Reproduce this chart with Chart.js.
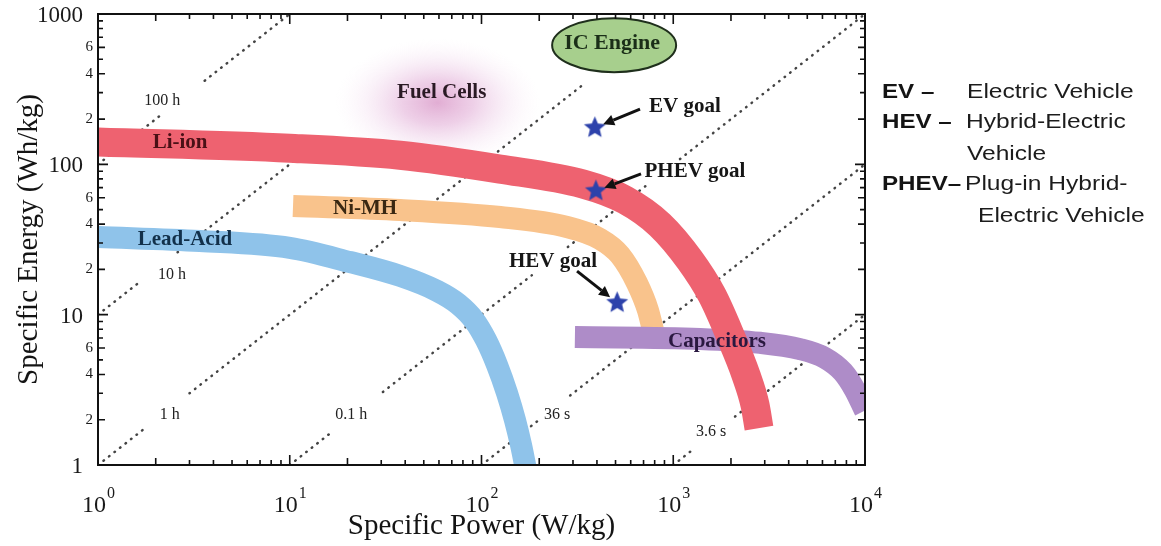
<!DOCTYPE html>
<html>
<head>
<meta charset="utf-8">
<script src="https://cdn.jsdelivr.net/npm/chart.js@4.4.1/dist/chart.umd.min.js"></script>
<style>
  html, body { margin: 0; padding: 0; background: #fff; }
  #wrap { width: 1161px; height: 546px; position: relative; }
</style>
</head>
<body>
<div id="wrap"><canvas id="ragone"></canvas></div>
<script>
// ---- bands: specific power (W/kg) vs specific energy (Wh/kg) ----
const leadAcidPower  = [1, 3.4, 10, 20.6, 37.6, 58.6, 75.4, 91.4, 105.6, 120.5, 135.9, 149.5, 160.7, 170.7];
const leadAcidEnergy = [32.9, 30.9, 27.8, 22.4, 18.1, 14.4, 11.8, 9.21, 6.78, 4.63, 3.01, 1.99, 1.36, 0.93];
const niMhPower      = [10.4, 37.6, 125, 279, 415, 528, 647, 738, 784];
const niMhEnergy     = [52.8, 49.7, 44.6, 38.3, 31.9, 24.9, 16.2, 10.7, 7.9];
const liIonPower     = [1, 10, 37.6, 125, 338, 560, 853, 1222, 1592, 1977, 2394, 2669, 2800];
const liIonEnergy    = [141, 128, 115, 93, 74, 58, 39.5, 23, 13.5, 7.32, 3.97, 2.51, 1.76];
const capPower       = [307, 1379, 2834, 4581, 6186, 7678, 8869, 10000, 11280];
const capEnergy      = [7.1, 6.9, 6.5, 5.9, 5.15, 4.15, 3.15, 2.3, 1.7];

const bandNames  = ['Li-ion', 'Ni-MH', 'Lead-Acid', 'Capacitors'];
const bandLabelP = [2.68, 24.7, 2.84, 1691];
const bandLabelE = [138.7, 50.5, 31.4, 6.58];

// ---- constant discharge-time guide lines (visible segments) ----
const guideNames = ['100 h', '10 h', '1 h', '0.1 h', '36 s', '3.6 s'];
const guideLabelP = [2.16, 2.43, 2.37, 20.9, 248, 1574];
const guideLabelE = [264, 18.4, 2.15, 2.15, 2.15, 1.66];
const guide100h = [[[1, 100], [2.1, 210]], [[3.6, 360], [10, 1000]]];
const guide10h  = [[[1, 10], [1.66, 16.6]], [[2.6, 26], [11, 110]]];
const guide1h   = [[[1, 1], [1.76, 1.76]], [[3, 3], [350, 350]]];
const guide01h  = [[[10, 1], [16.8, 1.68]], [[30.6, 3.06], [183, 18.3]], [[282, 28.2], [757, 75.7]], [[1084, 108.4], [10000, 1000]]];
const guide36s  = [[[100, 1], [195, 1.95]], [[290, 2.9], [10000, 100]]];
const guide3_6s = [[[1000, 1], [1250, 1.25]], [[2100, 2.1], [10000, 10]]];

// ---- vehicle goals ----
const goalNames   = ['EV goal', 'PHEV goal', 'HEV goal'];
const goalPower   = [390, 395, 510];
const goalEnergy  = [175, 66.5, 12];
const goalLabelP  = [1151, 1298, 236];
const goalLabelE  = [241, 88.9, 22.4];
const arrowTailP  = [671, 679, 315];
const arrowTailE  = [233, 86.3, 19.5];

// ---- other regions ----
const regionNames  = ['Fuel Cells', 'IC Engine'];
const regionPower  = [62, 480];
const regionEnergy = [300, 640];

// ---- axes ----
const xMajor = [1, 10, 100, 1000, 10000];
const xExponents = ['0', '1', '2', '3', '4'];
const yMajor = [1, 10, 100, 1000];
const yMajorLabels = ['1', '10', '100', '1000'];
const yMinor = [2, 4, 6, 20, 40, 60, 200, 400, 600];
const yMinorLabels = ['2', '4', '6', '2', '4', '6', '2', '4', '6'];
const minorSteps = [2, 3, 4, 5, 6, 7, 8, 9];

// ---- side legend ----
const acronyms = ['EV \u2013', 'HEV \u2013', '', 'PHEV\u2013', ''];
const meanings = ['Electric Vehicle', 'Hybrid-Electric', 'Vehicle', 'Plug-in Hybrid-', 'Electric Vehicle'];

const SERIF = '"Liberation Serif", "Times New Roman", serif';
const SANS = '"Liberation Sans", Arial, sans-serif';
Chart.defaults.font.family = SERIF;

function starCanvas(r, fill) {
  const c = document.createElement('canvas');
  const s = Math.ceil(r * 2 + 2);
  c.width = s; c.height = s;
  const g = c.getContext('2d');
  g.beginPath();
  for (let i = 0; i < 10; i++) {
    const rad = i % 2 ? r * 0.45 : r;
    const a = -Math.PI / 2 + i * Math.PI / 5;
    g.lineTo(s / 2 + rad * Math.cos(a), s / 2 + rad * Math.sin(a));
  }
  g.closePath();
  g.fillStyle = fill;
  g.fill();
  return c;
}

function band(label, P, E, colour, width, order) {
  return {
    label, order,
    data: P.map((p, i) => ({ x: p, y: E[i] })),
    showLine: true,
    borderColor: colour,
    backgroundColor: colour,
    borderWidth: width,
    borderCapStyle: 'butt',
    borderJoinStyle: 'round',
    cubicInterpolationMode: 'monotone',
    pointRadius: 0,
    clip: 0
  };
}

const datasets = [];
datasets.push({
  label: 'goals', order: 0,
  data: goalPower.map((p, i) => ({ x: p, y: goalEnergy[i] })),
  pointStyle: starCanvas(11.5, '#2d42ab'),
  pointRadius: 11,
  showLine: false
});
datasets.push(band('Li-ion', liIonPower, liIonEnergy, '#ee6270', 29, 1));
datasets.push(band('Capacitors', capPower, capEnergy, '#ae8cc8', 22, 2));
datasets.push(band('Ni-MH', niMhPower, niMhEnergy, '#f9c38c', 22, 3));
datasets.push(band('Lead-Acid', leadAcidPower, leadAcidEnergy, '#8fc3ea', 22, 4));

[guide100h, guide10h, guide1h, guide01h, guide36s, guide3_6s].forEach((segs, gi) => {
  segs.forEach(seg => {
    datasets.push({
      label: guideNames[gi], order: 20,
      data: seg.map(pt => ({ x: pt[0], y: pt[1] })),
      showLine: true,
      borderColor: '#444',
      borderWidth: 2.5,
      borderDash: [0.5, 6.5],
      borderCapStyle: 'round',
      pointRadius: 0,
      clip: 0
    });
  });
});

function toPx(chart, p, e) {
  return [chart.scales.x.getPixelForValue(p), chart.scales.y.getPixelForValue(e)];
}

function text(ctx, str, x, y, font, colour, align, baseline, sx) {
  ctx.save();
  ctx.font = font;
  ctx.fillStyle = colour;
  ctx.textAlign = align || 'center';
  ctx.textBaseline = baseline || 'middle';
  ctx.translate(x, y);
  ctx.scale(sx || 1, 1);
  ctx.fillText(str, 0, 0);
  ctx.restore();
}

function arrow(ctx, x0, y0, x1, y1) {
  const a = Math.atan2(y1 - y0, x1 - x0);
  const head = 11, half = 5.5;
  const bx = x1 - head * Math.cos(a), by = y1 - head * Math.sin(a);
  ctx.save();
  ctx.strokeStyle = '#111';
  ctx.fillStyle = '#111';
  ctx.lineWidth = 3;
  ctx.beginPath();
  ctx.moveTo(x0, y0);
  ctx.lineTo(bx, by);
  ctx.stroke();
  ctx.beginPath();
  ctx.moveTo(x1, y1);
  ctx.lineTo(bx + half * Math.sin(a), by - half * Math.cos(a));
  ctx.lineTo(bx - half * Math.sin(a), by + half * Math.cos(a));
  ctx.closePath();
  ctx.fill();
  ctx.restore();
}

const decor = {
  id: 'ragoneDecor',
  beforeDatasetsDraw(chart) {
    const { ctx, chartArea: ca } = chart;
    const [cx, cy] = toPx(chart, regionPower[0], regionEnergy[0]);
    ctx.save();
    ctx.beginPath();
    ctx.rect(ca.left, ca.top, ca.right - ca.left, ca.bottom - ca.top);
    ctx.clip();
    ctx.translate(cx - 4, cy + 10);
    ctx.scale(1.6, 1);
    const g = ctx.createRadialGradient(0, 0, 0, 0, 0, 64);
    g.addColorStop(0, 'rgba(196,92,168,0.5)');
    g.addColorStop(0.35, 'rgba(208,124,190,0.36)');
    g.addColorStop(0.7, 'rgba(226,176,218,0.16)');
    g.addColorStop(1, 'rgba(245,220,240,0)');
    ctx.fillStyle = g;
    ctx.fillRect(-70, -70, 140, 140);
    ctx.restore();
  },
  afterDatasetsDraw(chart) {
    const { ctx, chartArea: ca } = chart;

    // IC engine ellipse
    const [ex, ey] = toPx(chart, regionPower[1], regionEnergy[1]);
    ctx.save();
    ctx.beginPath();
    ctx.ellipse(ex + 2, ey + 2, 62, 27, 0, 0, Math.PI * 2);
    ctx.fillStyle = '#a7cf8d';
    ctx.fill();
    ctx.lineWidth = 2;
    ctx.strokeStyle = '#1f2f1c';
    ctx.stroke();
    ctx.restore();

    const bold = 'bold 21px ' + SERIF;
    text(ctx, regionNames[0], ...toPx(chart, regionPower[0], regionEnergy[0]), bold, '#2a1a24');
    text(ctx, regionNames[1], ex, ey, 'bold 22px ' + SERIF, '#1b2e18');

    const bandText = ['#4a1016', '#3a2812', '#12304a', '#2a1840'];
    bandNames.forEach((n, i) => {
      text(ctx, n, ...toPx(chart, bandLabelP[i], bandLabelE[i]), bold, bandText[i]);
    });

    guideNames.forEach((n, i) => {
      text(ctx, n, ...toPx(chart, guideLabelP[i], guideLabelE[i]), '16px ' + SERIF, '#222');
    });

    goalNames.forEach((n, i) => {
      text(ctx, n, ...toPx(chart, goalLabelP[i], goalLabelE[i]), 'bold 21px ' + SERIF, '#161616');
      const [tx, ty] = toPx(chart, arrowTailP[i], arrowTailE[i]);
      const [sx, sy] = toPx(chart, goalPower[i], goalEnergy[i]);
      const a = Math.atan2(sy - ty, sx - tx);
      arrow(ctx, tx, ty, sx - 9 * Math.cos(a), sy - 9 * Math.sin(a));
    });

    // frame and inward ticks on all four sides
    ctx.save();
    ctx.strokeStyle = '#111';
    ctx.lineWidth = 2;
    ctx.strokeRect(ca.left, ca.top, ca.right - ca.left, ca.bottom - ca.top);
    ctx.lineWidth = 1.6;
    ctx.beginPath();
    const xs = chart.scales.x, ys = chart.scales.y;
    xMajor.forEach(d => {
      [1].concat(minorSteps).forEach(m => {
        const v = d * m;
        if (v > 10000) return;
        const x = xs.getPixelForValue(v);
        const len = m === 1 ? 10 : (m === 2 ? 7 : 5);
        ctx.moveTo(x, ca.bottom); ctx.lineTo(x, ca.bottom - len);
        ctx.moveTo(x, ca.top); ctx.lineTo(x, ca.top + len);
      });
    });
    yMajor.forEach(d => {
      [1].concat(minorSteps).forEach(m => {
        const v = d * m;
        if (v > 1000) return;
        const y = ys.getPixelForValue(v);
        const len = m === 1 ? 10 : ([2, 4, 6].includes(m) ? 7 : 5);
        ctx.moveTo(ca.left, y); ctx.lineTo(ca.left + len, y);
        ctx.moveTo(ca.right, y); ctx.lineTo(ca.right - len, y);
      });
    });
    ctx.stroke();
    ctx.restore();
  },
  afterDraw(chart) {
    const { ctx, chartArea: ca } = chart;
    const xs = chart.scales.x, ys = chart.scales.y;

    // x tick labels 10^n
    xMajor.forEach((v, i) => {
      const x = xs.getPixelForValue(v);
      ctx.save();
      ctx.font = '24px ' + SERIF;
      const w1 = ctx.measureText('10').width;
      ctx.font = '16px ' + SERIF;
      const w2 = ctx.measureText(xExponents[i]).width;
      const x0 = x - (w1 + w2) / 2;
      ctx.restore();
      text(ctx, '10', x0, ca.bottom + 47, '24px ' + SERIF, '#1a1a1a', 'left', 'alphabetic');
      text(ctx, xExponents[i], x0 + w1 + 1, ca.bottom + 33, '16px ' + SERIF, '#1a1a1a', 'left', 'alphabetic');
    });

    // y tick labels
    yMajor.forEach((v, i) => {
      text(ctx, yMajorLabels[i], ca.left - 15, ys.getPixelForValue(v) + 2, '23px ' + SERIF, '#1a1a1a', 'right');
    });
    yMinor.forEach((v, i) => {
      text(ctx, yMinorLabels[i], ca.left - 5, ys.getPixelForValue(v), '15px ' + SERIF, '#1a1a1a', 'right');
    });

    // side legend of abbreviations
    const baselines = [98, 128, 160, 190, 222];
    const meanX = [967, 966, 967, 965, 978];
    acronyms.forEach((a, i) => {
      if (a) text(ctx, a, ca.right + 17, baselines[i], 'bold 21px ' + SANS, '#141414', 'left', 'alphabetic', 1.15);
      text(ctx, meanings[i], meanX[i], baselines[i], '21px ' + SANS, '#1c1c1c', 'left', 'alphabetic', 1.17);
    });
  }
};

new Chart(document.getElementById('ragone'), {
  type: 'scatter',
  data: { datasets },
  options: {
    responsive: true,
    maintainAspectRatio: false,
    animation: false,
    layout: { padding: { left: 0, top: 14, right: 296, bottom: 0 } },
    plugins: { legend: { display: false }, tooltip: { enabled: false } },
    scales: {
      x: {
        type: 'logarithmic', position: 'bottom', min: 1, max: 10000,
        ticks: { display: false }, grid: { display: false }, border: { display: false },
        title: { display: true, text: 'Specific Power (W/kg)', color: '#141414',
                 font: { family: SERIF, size: 29 }, padding: { top: 0, bottom: 2 } },
        afterFit: s => { s.height = 81; }
      },
      y: {
        type: 'logarithmic', position: 'left', min: 1, max: 1000,
        ticks: { display: false }, grid: { display: false }, border: { display: false },
        title: { display: true, text: 'Specific Energy (Wh/kg)', color: '#141414',
                 font: { family: SERIF, size: 29 }, padding: { top: 12, bottom: 0 } },
        afterFit: s => { s.width = 98; }
      }
    }
  },
  plugins: [decor]
});
</script>
</body>
</html>
